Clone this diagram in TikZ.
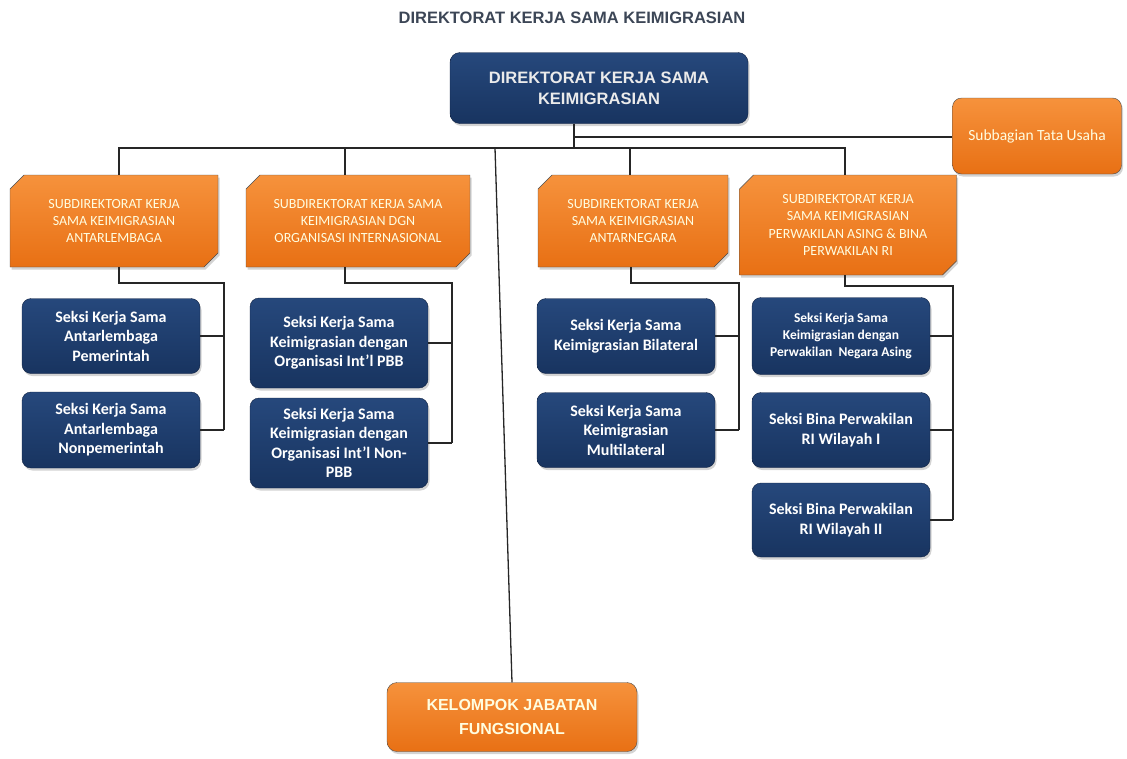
\documentclass[tikz,border=0pt]{standalone}
\usepackage{fontspec}
\setmainfont{Carlito}
\setsansfont{Liberation Sans}
\usetikzlibrary{shapes.misc,shadows,calc}
\definecolor{navy}{RGB}{24,52,96}
\definecolor{navytop}{RGB}{38,72,124}
\definecolor{navyline}{RGB}{16,34,66}
\definecolor{orangebox}{RGB}{232,112,20}
\definecolor{orangetop}{RGB}{246,146,60}
\definecolor{titlegray}{RGB}{60,70,86}
\colorlet{paletext}{yellow!12!white}
\tikzstyle{line}=[black!85,line width=1.3pt]
\tikzstyle{shade}=[drop shadow={shadow xshift=1.5pt,shadow yshift=-2.5pt,opacity=0.35}]

\begin{document}
\begin{tikzpicture}[x=1pt, y=-1pt,
    seksi/.style={draw=navyline, top color=navytop, bottom color=navy, rounded corners=9pt, shade, text=white, align=center, font=\fontsize{16}{19.5}\selectfont\bfseries, minimum width=178pt},
    subdir/.style={chamfered rectangle, chamfered rectangle corners={north west,south east}, chamfered rectangle sep=7pt, draw=black!70, top color=orangetop, bottom color=orangebox, shade, text=paletext, align=center, font=\fontsize{14}{17.5}\selectfont, inner sep=0pt},
    head/.style={draw=navyline, top color=navytop, bottom color=navy, rounded corners=10pt, shade, text=white!92!black, align=center, font=\sffamily\bfseries\fontsize{16.5}{21}\selectfont}]

    \useasboundingbox (0,0) rectangle (1127,758);

    % title
    \node[text=titlegray, font=\sffamily\bfseries\fontsize{16.5}{19}\selectfont] (title) at (572,18) {DIREKTORAT KERJA SAMA KEIMIGRASIAN};

    % direktorat
    \node[head, minimum width=298pt, minimum height=71pt] (top) at (599,88) {DIREKTORAT KERJA SAMA\\KEIMIGRASIAN};

    % subbagian tata usaha
    \node[draw=black!70, top color=orangetop, bottom color=orangebox, rounded corners=9pt, shade, text=paletext, font=\fontsize{15.5}{18}\selectfont, minimum width=169pt, minimum height=76pt] (tu) at (1037,136) {Subbagian Tata Usaha};

    % subdirektorat
    \node[subdir, minimum width=208pt, minimum height=92pt] (sub1) at (114,221) {SUBDIREKTORAT KERJA\\SAMA KEIMIGRASIAN\\ANTARLEMBAGA};
    \node[subdir, minimum width=224pt, minimum height=92pt] (sub2) at (358,221) {SUBDIREKTORAT KERJA SAMA\\KEIMIGRASIAN DGN\\ORGANISASI INTERNASIONAL};
    \node[subdir, minimum width=190pt, minimum height=92pt] (sub3) at (633,221) {SUBDIREKTORAT KERJA\\SAMA KEIMIGRASIAN\\ANTARNEGARA};
    \node[subdir, minimum width=217pt, minimum height=100pt] (sub4) at (848,225) {SUBDIREKTORAT KERJA\\SAMA KEIMIGRASIAN\\PERWAKILAN ASING \& BINA\\PERWAKILAN RI};

    % seksi
    \node[seksi, minimum height=75pt] (s11) at (111,336) {Seksi Kerja Sama\\Antarlembaga\\Pemerintah};
    \node[seksi, minimum height=76pt] (s12) at (111,430) {Seksi Kerja Sama\\Antarlembaga\\Nonpemerintah};
    \node[seksi, minimum height=90pt] (s21) at (339,343) {Seksi Kerja Sama\\Keimigrasian dengan\\Organisasi Int'l PBB};
    \node[seksi, minimum height=90pt] (s22) at (339,443) {Seksi Kerja Sama\\Keimigrasian dengan\\Organisasi Int'l Non-\\PBB};
    \node[seksi, minimum height=75pt] (s31) at (626,336) {Seksi Kerja Sama\\Keimigrasian Bilateral};
    \node[seksi, minimum height=75pt] (s32) at (626,430) {Seksi Kerja Sama\\Keimigrasian\\Multilateral};
    \node[seksi, minimum height=77pt, font=\fontsize{13.5}{17}\selectfont\bfseries] (s41) at (841,336) {Seksi Kerja Sama\\Keimigrasian dengan\\Perwakilan\ \ Negara Asing};
    \node[seksi, minimum height=75pt] (s42) at (841,430) {Seksi Bina Perwakilan\\RI Wilayah I};
    \node[seksi, minimum height=74pt] (s43) at (841,520) {Seksi Bina Perwakilan\\RI Wilayah II};

    % kelompok jabatan fungsional
    \node[draw=black!70, top color=orangetop, bottom color=orangebox, rounded corners=10pt, shade, text=paletext, align=center, font=\sffamily\bfseries\fontsize{16}{24}\selectfont, minimum width=250pt, minimum height=69pt] (kjf) at (512,717) {KELOMPOK JABATAN\\FUNGSIONAL};

    % connectors
    \coordinate (bus) at (574,148);
    \coordinate (tub) at (574,137);
    \coordinate (kb) at (495,148);
    \draw[line] (top.south -| bus) -- (bus);
    \draw[line] (tub) -- (tub -| tu.west);
    \draw[line] ($(sub1.north)+(5,0)$) |- (bus) -| ($(sub4.north)+(-3,0)$);
    \draw[line] ($(sub2.north)+(-13,0)$) coordinate (a2) -- (a2 |- bus);
    \draw[line] ($(sub3.north)+(-3,0)$) coordinate (a3) -- (a3 |- bus);
    \draw[line] (kb) -- (kjf.north);

    % group 1
    \coordinate (r1) at (224,283);
    \draw[line] ($(sub1.south)+(5,0)$) |- (r1) -- (r1 |- s12.east);
    \draw[line] (s11.east) -- (s11.east -| r1);
    \draw[line] (s12.east) -- (s12.east -| r1);

    % group 2
    \coordinate (r2) at (452,283);
    \draw[line] ($(sub2.south)+(-13,0)$) |- (r2) -- (r2 |- s22.east);
    \draw[line] (s21.east) -- (s21.east -| r2);
    \draw[line] (s22.east) -- (s22.east -| r2);

    % group 3
    \coordinate (r3) at (739,283);
    \draw[line] ($(sub3.south)+(-2,0)$) |- (r3) -- (r3 |- s32.east);
    \draw[line] (s31.east) -- (s31.east -| r3);
    \draw[line] (s32.east) -- (s32.east -| r3);

    % group 4
    \coordinate (r4) at (953,286);
    \draw[line] ($(sub4.south)+(-3,0)$) |- (r4) -- (r4 |- s43.east);
    \draw[line] (s41.east) -- (s41.east -| r4);
    \draw[line] (s42.east) -- (s42.east -| r4);
    \draw[line] (s43.east) -- (s43.east -| r4);
\end{tikzpicture}
\end{document}
